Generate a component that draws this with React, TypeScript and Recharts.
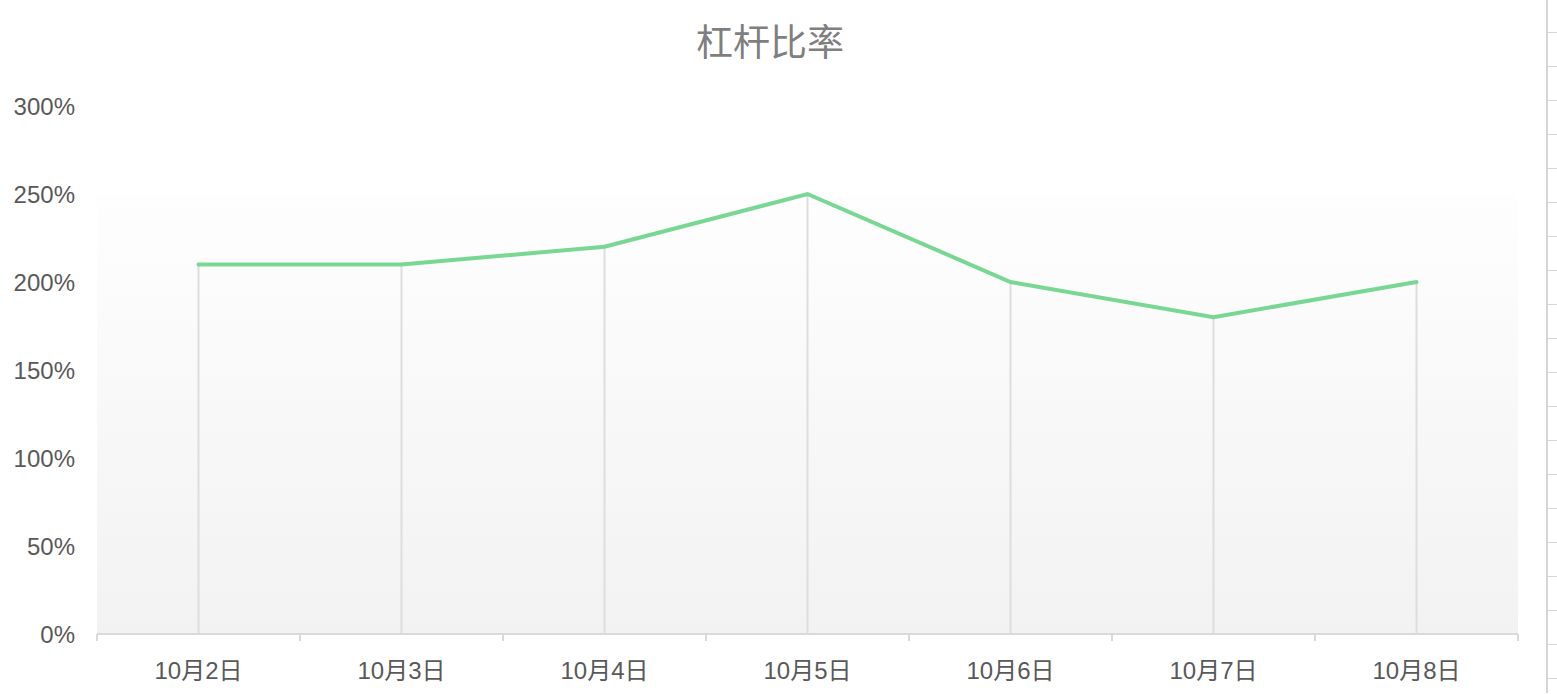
import React from 'react';
import { LineChart, Line, XAxis, YAxis, ReferenceArea, ReferenceLine } from 'recharts';

const days = ['10月2日', '10月3日', '10月4日', '10月5日', '10月6日', '10月7日', '10月8日'];
const ratios = [210, 210, 220, 250, 200, 180, 200];
const yTicks = [0, 50, 100, 150, 200, 250, 300];
const rulerTicks = Array.from({ length: 20 }, (_, i) => i);

const data = days.map((day, i) => ({ day, ratio: ratios[i] }));

const W = 1540;
const H = 694;
const M = { top: 106, right: 22, bottom: 0, left: 0 };
const Y_W = 97;
const X_H = 60;
const halfBand = (W - Y_W - M.right) / days.length / 2;
const lastIdx = days.length - 1;

const font = '"Liberation Sans", Arial, "Noto Sans CJK SC", sans-serif';

const DayTick = (props: any) => {
  const { x, y, payload, index } = props;
  const last = index === lastIdx;
  return (
    <g>
      <line x1={x - halfBand} y1={y} x2={x - halfBand} y2={y + 7} stroke="#d9d9d9" strokeWidth={2} />
      {last && <line x1={x + halfBand} y1={y} x2={x + halfBand} y2={y + 7} stroke="#d9d9d9" strokeWidth={2} />}
      <text x={x} y={y + 36} textAnchor="middle" dominantBaseline="central" fill="#595959" fontSize={24} fontFamily={font}>
        {payload.value}
      </text>
    </g>
  );
};

export default function App() {
  return (
    <div style={{ position: 'absolute', left: 0, top: 0, width: 1557, height: H, background: '#fff', overflow: 'hidden' }}>
      <div
        style={{
          position: 'absolute', left: 0, top: 22, width: W, textAlign: 'center',
          fontSize: 37, color: '#7f7f7f', fontFamily: font, lineHeight: '44px',
        }}
      >
        杠杆比率
      </div>
      <LineChart width={W} height={H} data={data} margin={M}>
        <defs>
          <linearGradient id="plotBg" x1="0" y1="0" x2="0" y2="1">
            <stop offset="0%" stopColor="#fefefe" />
            <stop offset="100%" stopColor="#f2f2f2" />
          </linearGradient>
        </defs>
        <XAxis
          dataKey="day"
          height={X_H}
          padding={{ left: halfBand, right: halfBand }}
          axisLine={{ stroke: '#d9d9d9', strokeWidth: 2 }}
          tickLine={false}
          tickSize={0}
          tickMargin={0}
          interval={0}
          tick={<DayTick />}
        />
        <XAxis xAxisId="bg" type="number" domain={[0, lastIdx]} allowDataOverflow hide />
        <YAxis
          width={Y_W}
          domain={[0, 300]}
          ticks={yTicks}
          axisLine={false}
          tickLine={false}
          tickSize={0}
          tickMargin={22}
          tickFormatter={(v: number) => `${v}%`}
          tick={{ fill: '#595959', fontSize: 24, fontFamily: font }}
        />
        <ReferenceArea
          xAxisId="bg"
          x1={0}
          x2={lastIdx}
          y1={0}
          y2={250}
          fill="url(#plotBg)"
          fillOpacity={1}
          stroke="none"
          ifOverflow="visible"
        />
        {data.map((d) => (
          <ReferenceLine
            key={d.day}
            segment={[{ x: d.day, y: 0 }, { x: d.day, y: d.ratio }]}
            stroke="#dddddd"
            strokeWidth={2}
          />
        ))}
        <Line
          type="linear"
          dataKey="ratio"
          stroke="#78d792"
          strokeWidth={4}
          strokeLinecap="round"
          dot={false}
          activeDot={false}
          isAnimationActive={false}
        />
      </LineChart>
      <div style={{ position: 'absolute', left: 1546, top: 0, width: 2, height: 693, background: '#d6d6d6' }} />
      {rulerTicks.map((i) => (
        <div key={i} style={{ position: 'absolute', left: 1548, top: 32 + i * 34, width: 9, height: 1, background: '#d6d6d6' }} />
      ))}
    </div>
  );
}
